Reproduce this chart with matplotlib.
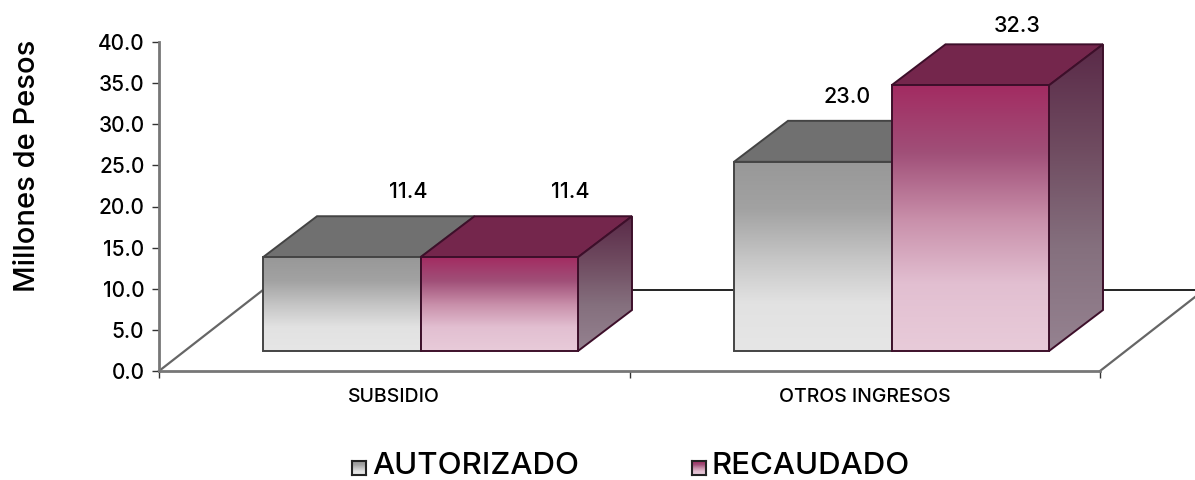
import numpy as np
import matplotlib
matplotlib.use('Agg')
import matplotlib.pyplot as plt
from matplotlib.colors import LinearSegmentedColormap
from matplotlib.patches import Polygon

plt.rcParams['font.family'] = ['Inter', 'DejaVu Sans']
plt.rcParams['font.weight'] = 'medium'

categories = ['SUBSIDIO', 'OTROS INGRESOS']
series_names = ['AUTORIZADO', 'RECAUDADO']
autorizado = [11.4, 23.0]
recaudado = [11.4, 32.3]
y_ticks = [0, 5, 10, 15, 20, 25, 30, 35, 40]

W, H = 1195, 480
fig = plt.figure(figsize=(W / 100, H / 100), dpi=100)
ax = fig.add_axes([159 / W, (H - 371) / H, 941 / W, 329 / H])

# 3d look, everything in axis units
PX_X = 2 / 941
PX_Y = 40 / 329
bar_w = 157.5 * PX_X
depth_x = 54 * PX_X
depth_y = 41 * PX_Y
base_y = 20 * PX_Y
left_edge = [104 * PX_X, 575 * PX_X]

grey_front = LinearSegmentedColormap.from_list('gf', ['#e6e6e6', '#e2e2e2', '#c4c4c4', '#a2a2a2', '#989898'])
pink_front = LinearSegmentedColormap.from_list('pf', ['#e8cbd9', '#e2bfd1', '#c88ea9', '#a04f78', '#a32c62'])
pink_side = LinearSegmentedColormap.from_list('ps', ['#958290', '#85707e', '#6f4b60', '#5a2a48'])
grey_top = '#707070'
pink_top = '#74264c'
edge = '#444444'
edge_pink = '#3d0f2a'


def gradient(poly_pts, cmap, y0, y1, z):
    xs = [p[0] for p in poly_pts]
    g = np.linspace(1, 0, 128).reshape(-1, 1)
    im = ax.imshow(g, cmap=cmap, vmin=0, vmax=1, aspect='auto', zorder=z,
                   extent=[min(xs), max(xs), y0, y1], interpolation='bilinear')
    clip = Polygon(poly_pts, closed=True, transform=ax.transData)
    im.set_clip_path(clip)
    im.set_clip_box(fig.bbox)


def outline(pts, color, z, fc='none', lw=1.4):
    ax.add_patch(Polygon(pts, closed=True, fc=fc, ec=color, lw=lw, zorder=z, clip_on=False))


def bar3d(x0, val, front_cmap, top_col, ec, z, side=True):
    x1 = x0 + bar_w
    y0, y1 = base_y, base_y + val
    front = [(x0, y0), (x1, y0), (x1, y1), (x0, y1)]
    top = [(x0, y1), (x1, y1), (x1 + depth_x, y1 + depth_y), (x0 + depth_x, y1 + depth_y)]
    outline(top, ec, z, fc=top_col)
    if side:
        s = [(x1, y0), (x1 + depth_x, y0 + depth_y), (x1 + depth_x, y1 + depth_y), (x1, y1)]
        gradient(s, pink_side, y0, y1 + depth_y, z)
        outline(s, ec, z + 0.1)
    gradient(front, front_cmap, y0, y1, z + 0.2)
    outline(front, ec, z + 0.3)


# floor behind the bars
floor_y = 81 * PX_Y
floor_x = 104 * PX_X
ax.plot([0, floor_x], [0, floor_y], color='#666666', lw=1.6, clip_on=False, zorder=1)
ax.plot([floor_x, 2 + 95 * PX_X], [floor_y, floor_y], color='#222222', lw=1.4, clip_on=False, zorder=1)
ax.plot([2, 2 + 95 * PX_X], [0, 74 * PX_Y], color='#666666', lw=1.6, clip_on=False, zorder=1)

label_dx = [(67, 71), (34, 47)]
label_dy = [(10.4, 10.4), (10.3, 9.6)]
for i in range(len(categories)):
    x0 = left_edge[i]
    bar3d(x0, autorizado[i], grey_front, grey_top, edge, 3, side=False)
    bar3d(x0 + bar_w, recaudado[i], pink_front, pink_top, edge_pink, 4)
    for j, val in enumerate((autorizado[i], recaudado[i])):
        xc = x0 + bar_w * (j + 0.5) + label_dx[i][j] * PX_X
        ax.text(xc, val + label_dy[i][j], f'{val:.1f}', ha='center', va='center', fontsize=15.5, color='black', zorder=6, clip_on=False)

ax.set_xlim(0, 2)
ax.set_ylim(0, 40)
ax.set_yticks(y_ticks)
ax.set_yticklabels([f'{v:.1f}' for v in y_ticks], fontsize=15, color='black')
ax.set_xticks([0, 1, 2])
ax.set_xticklabels([])
ax.set_xticks([0.5, 1.5], minor=True)
ax.set_xticklabels(categories, minor=True, fontsize=14)
ax.tick_params(axis='x', which='minor', length=0, pad=12)
ax.tick_params(axis='both', which='major', length=5, width=1, color='#333333')
ax.tick_params(axis='y', pad=5.5)
for s in ('top', 'right'):
    ax.spines[s].set_visible(False)
for s in ('left', 'bottom'):
    ax.spines[s].set_color('#777777')
    ax.spines[s].set_linewidth(2)
ax.patch.set_alpha(0)

fig.text(28 / W, 1 - 166 / H, 'Millones de Pesos', rotation=90, ha='center', va='center', fontsize=21)

# legend, swatches have the gradient too
for name, cmap, sx in zip(series_names, (grey_front, pink_front), (352, 692)):
    sw = fig.add_axes([sx / W, 1 - 475 / H, 14 / W, 14 / H])
    sw.imshow(np.linspace(1, 0, 32).reshape(-1, 1), cmap=cmap, vmin=0, vmax=1, aspect='auto')
    sw.set_xticks([])
    sw.set_yticks([])
    for sp in sw.spines.values():
        sp.set_linewidth(1.5)
        sp.set_color('#222222')
    fig.text((sx + 20) / W, 1 - 466.5 / H, name, ha='left', va='center', fontsize=22.5)

fig.savefig('out.png', dpi=100)
